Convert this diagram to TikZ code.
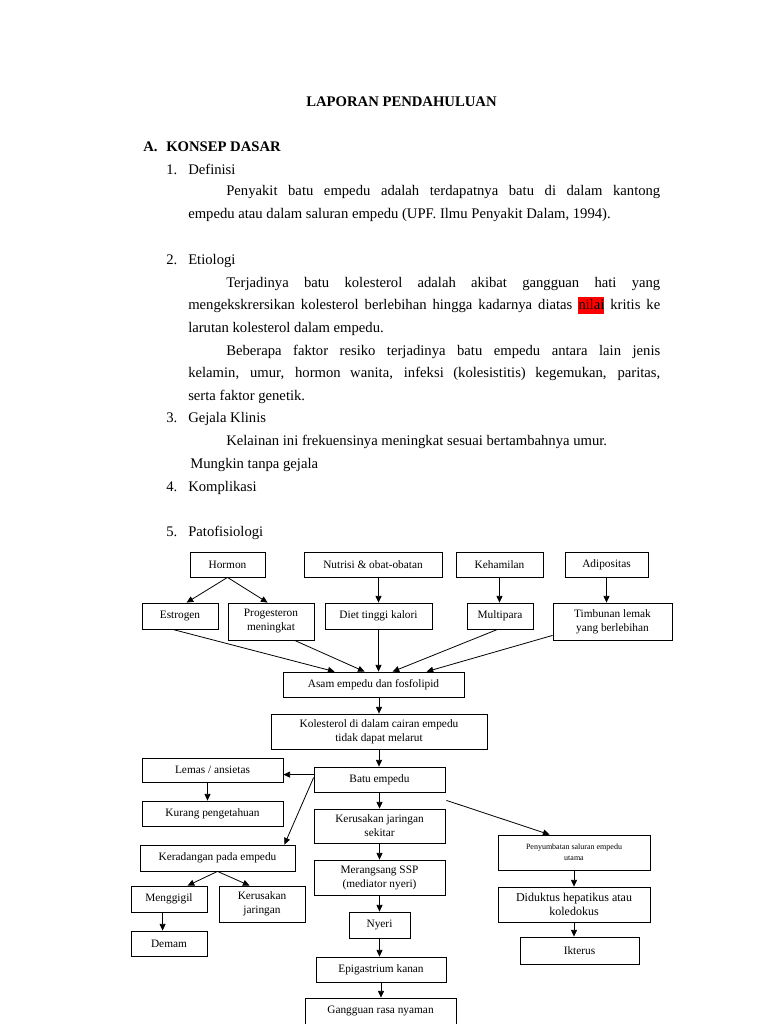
\documentclass[tikz,border=0pt]{standalone}
\usepackage{fontspec}
\setmainfont{Liberation Serif}
\usetikzlibrary{arrows.meta,calc}
\newcommand\boxat[7][]{\node[bx, #1, minimum width={0.75*(#4-#2)}, minimum height={0.75*(#5-#3)}] (#6) at ({(#2+#4)/2},{(#3+#5)/2}) {#7};}
\begin{document}
\begin{tikzpicture}[x=0.75pt,y=-0.75pt,
  txt/.style={anchor=base west, inner sep=0pt, font=\fontsize{11}{13}\selectfont},
  bx/.style={draw, line width=0.6pt, inner sep=0pt, align=center, font=\fontsize{8.5}{10.5}\selectfont},
  arr/.style={-{Triangle[length=5pt,width=4.5pt]}, line width=0.6pt}]
\useasboundingbox[fill=white] (0,0) rectangle (768,1024);

% ---------- text ----------
\node[txt, anchor=base, font=\fontsize{11}{13}\selectfont\bfseries] (title) at (401.5,106) {LAPORAN PENDAHULUAN};
\node[txt, font=\fontsize{11}{13}\selectfont\bfseries] (a1) at (143,151) {A.};
\node[txt, font=\fontsize{11}{13}\selectfont\bfseries] (a2) at (166,151) {KONSEP DASAR};
\node[txt] (n1) at (166,174) {1.};
\node[txt] (t1) at (188,174) {Definisi};
\node[txt] (p1a) at (226,195) {\makebox[325.5pt][s]{Penyakit batu empedu adalah terdapatnya batu di dalam kantong}};
\node[txt] (p1b) at (188,218) {empedu atau dalam saluran empedu (UPF. Ilmu Penyakit Dalam, 1994).};
\node[txt] (n2) at (166,264) {2.};
\node[txt] (t2) at (188,264) {Etiologi};
\node[txt] (p2a) at (226,287) {\makebox[325.5pt][s]{Terjadinya batu kolesterol adalah akibat gangguan hati yang}};
\node[txt] (p2b) at (188,309) {\makebox[354pt][s]{mengekskrersikan kolesterol berlebihan hingga kadarnya diatas {\setlength{\fboxsep}{0pt}\colorbox{red}{\strut nilai}} kritis ke}};
\node[txt] (p2c) at (188,332) {larutan kolesterol dalam empedu.};
\node[txt] (p2d) at (226,355) {\makebox[325.5pt][s]{Beberapa faktor resiko terjadinya batu empedu antara lain jenis}};
\node[txt] (p2e) at (188,377) {\makebox[354pt][s]{kelamin, umur, hormon wanita, infeksi (kolesistitis) kegemukan, paritas,}};
\node[txt] (p2f) at (188,400) {serta faktor genetik.};
\node[txt] (n3) at (166,422) {3.};
\node[txt] (t3) at (188,422) {Gejala Klinis};
\node[txt] (p3a) at (226,445) {Kelainan ini frekuensinya meningkat sesuai bertambahnya umur.};
\node[txt] (p3b) at (190,468) {Mungkin tanpa gejala};
\node[txt] (n4) at (166,491) {4.};
\node[txt] (t4) at (188,491) {Komplikasi};
\node[txt] (n5) at (166,536) {5.};
\node[txt] (t5) at (188,536) {Patofisiologi};

% ---------- boxes ----------
\boxat{190}{552}{265}{577}{hormon}{Hormon}
\boxat{304}{552}{442}{577}{nutrisi}{Nutrisi \& obat-obatan}
\boxat{456}{552}{543}{577}{kehamilan}{Kehamilan}
\boxat{565}{552}{648}{577}{adipositas}{Adipositas}
\boxat{142}{603}{218}{629}{estrogen}{Estrogen}
\boxat{228}{603}{314}{640}{progesteron}{Progesteron\\meningkat}
\boxat{325}{603}{432}{629}{diet}{Diet tinggi kalori}
\boxat{467}{603}{533}{629}{multipara}{Multipara}
\boxat{553}{603}{672}{640}{timbunan}{Timbunan lemak\\yang berlebihan}
\boxat{283}{672}{464}{697}{asam}{Asam empedu dan fosfolipid}
\boxat{271}{714}{487}{749}{kolesterol}{Kolesterol di dalam cairan empedu\\tidak dapat melarut}
\boxat{314}{767}{445}{792}{batu}{Batu empedu}
\boxat{142}{758}{283}{782}{lemas}{Lemas / ansietas}
\boxat{142}{801}{283}{826}{kurang}{Kurang pengetahuan}
\boxat{140}{845}{295}{871}{keradangan}{Keradangan pada empedu}
\boxat{314}{809}{445}{843}{kerusakan}{Kerusakan jaringan\\sekitar}
\boxat{314}{860}{445}{895}{merangsang}{Merangsang SSP\\(mediator nyeri)}
\boxat{131}{886}{207}{912}{menggigil}{Menggigil}
\boxat{219}{886}{305}{922}{kerusakanj}{Kerusakan\\jaringan}
\boxat{131}{931}{207}{956}{demam}{Demam}
\boxat{349}{912}{410}{938}{nyeri}{Nyeri}
\boxat{316}{957}{446}{982}{epigastrium}{Epigastrium kanan}
\boxat{305}{998}{456}{1040}{gangguan}{}
\node[font=\fontsize{8.5}{10.5}\selectfont, inner sep=0pt] (ganggtxt) at (380.5,1011) {Gangguan rasa nyaman};
\boxat[font=\fontsize{6}{8}\selectfont]{498}{835}{650}{870}{penyumbatan}{Penyumbatan saluran empedu\\utama}
\boxat[font=\fontsize{9}{11}\selectfont]{498}{887}{650}{922}{diduktus}{Diduktus hepatikus atau\\koledokus}
\boxat{520}{937}{639}{964}{ikterus}{Ikterus}

% ---------- connectors ----------
\draw[arr] (hormon.south) -- ($(estrogen.north west)+(45,0)$);
\draw[arr] (hormon.south) -- ($(progesteron.north west)+(40,0)$);
\draw[arr] (nutrisi.south -| diet.north) -- (diet.north);
\draw[arr] (kehamilan.south) -- (kehamilan.south |- multipara.north);
\draw[arr] (adipositas.south) -- (adipositas.south |- timbunan.north);

\draw[arr] ($(estrogen.south west)+(31,0)$) -- ($(asam.north west)+(52,0)$);
\draw[arr] ($(progesteron.south west)+(67,0)$) -- ($(asam.north west)+(82,0)$);
\draw[arr] (diet.south) -- (diet.south |- asam.north);
\draw[arr] ($(multipara.south west)+(31,0)$) -- ($(asam.north west)+(110,0)$);
\draw[arr] ($(timbunan.south west)+(0,-5)$) -- ($(asam.north west)+(144,0)$);

\draw[arr] (kolesterol.north |- asam.south) -- (kolesterol.north);
\draw[arr] (kolesterol.south) -- (kolesterol.south |- batu.north);

\coordinate (bl) at ($(batu.north west)+(0,8)$);
\draw[arr] (bl) -- (bl -| lemas.east);
\draw[arr] ($(batu.north west)+(0,11)$) -- ($(keradangan.north east)+(-11,0)$);
\draw[arr] ($(lemas.south)+(-5,0)$) -- ($(kurang.north)+(-5,0)$);

\draw[arr] (batu.south) -- (kerusakan.north);
\draw[arr] (kerusakan.south) -- (merangsang.north);
\draw[arr] (merangsang.south) -- (merangsang.south |- nyeri.north);
\draw[arr] (nyeri.south) -- (nyeri.south |- epigastrium.north);
\draw[arr] (epigastrium.south) -- (epigastrium.south |- gangguan.north);

\draw[arr] ($(batu.south east)+(1,8)$) -- ($(penyumbatan.north west)+(52,0)$);
\draw[arr] (penyumbatan.south) -- (penyumbatan.south |- diduktus.north);
\draw[arr] (diduktus.south) -- (diduktus.south |- ikterus.north);

\draw[arr] (keradangan.south) -- ($(menggigil.north west)+(57,0)$);
\draw[arr] (keradangan.south) -- ($(kerusakanj.north west)+(31,0)$);
\draw[arr] ($(menggigil.south west)+(32,0)$) -- ($(demam.north west)+(32,0)$);
\end{tikzpicture}
\end{document}
